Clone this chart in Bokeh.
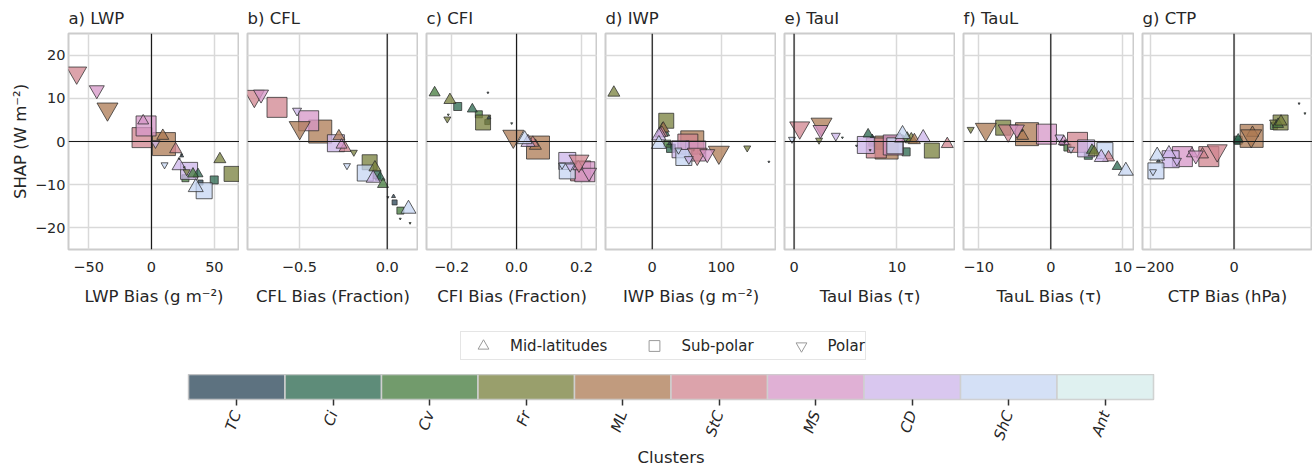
import math
import numpy as np
from bokeh.plotting import figure
from bokeh.layouts import column, row
from bokeh.models import (ColumnDataSource, FixedTicker, CustomJSTickFormatter, Span,
                          Legend, LegendItem, Range1d, FactorRange, Grid)
from bokeh.embed import file_html
from bokeh.resources import INLINE

# ---------------- data ----------------
CLUSTERS = ["TC", "Ci", "Cv", "Fr", "ML", "StC", "MS", "CD", "ShC", "Ant"]
CLUSTER_COLORS = ["#5d7280", "#5e8c79", "#729b6c", "#999f6c", "#c19b7e",
                  "#dca3ab", "#e0b0d5", "#d9c7ef", "#d4e0f6", "#dff1f0"]
PLOTTED = CLUSTERS[:9]          # clusters that appear in the scatter panels
REGIONS = ["Mid-latitudes", "Sub-polar", "Polar"]

# marker size per cluster (relative frequency), per region
SIZE_MID = [4, 10, 11, 12, 12, 12, 11, 14, 15]
SIZE_SUB = [5, 8, 7, 15, 23, 20, 20, 17, 16]
SIZE_POL = [2, 2, 2, 7, 21, 20, 15, 9, 7]

# each list: Mid-latitudes (9 clusters), Sub-polar (9), Polar (9)
LWP_X = [24, 37, 33, 54.4, 9, 19.2, -6.6, 21.9, 35.2,
         39, 49.9, 27, 63.7, 9.9, -7.5, -4.3, 29.9, 41.9,
         24, 22, 26, 28, -35, -59.5, -43.5, 3.2, 10.4]
LWP_Y = [-3.3, -7.5, -7.5, -4.1, 1.3, -1.8, 4.8, -5.6, -10.6,
         -9.5, -8.9, -8.5, -7.5, -0.6, 0.9, 3.6, -6.8, -11.4,
         -3.0, -4.0, -6.0, -7.0, 7.5, 15.9, 11.9, -0.4, -5.4]

CFL_X = [0.036, -0.04, -0.024, -0.07, -0.275, -0.24, -0.26, -0.08, 0.121,
         0.042, -0.059, 0.075, -0.1, -0.381, -0.627, -0.447, -0.292, -0.125,
         0.004, 0.074, 0.13, -0.19, -0.498, -0.756, -0.718, -0.513, -0.229]
CFL_Y = [-12.7, -8.3, -9.9, -6.0, 1.2, -1.5, -0.8, -8.5, -15.6,
         -14.1, -7.7, -16.0, -4.8, 2.3, 7.9, 4.8, -0.4, -7.3,
         -12.9, -17.9, -18.9, -2.5, 3.2, 10.5, 10.9, 7.1, -5.6]

CFI_X = [-0.085, -0.136, -0.252, -0.205, 0.058, 0.05, 0.19, 0.035, 0.025,
         -0.09, -0.181, -0.116, -0.103, 0.066, 0.197, 0.21, 0.156, 0.156,
         -0.088, -0.015, -0.21, -0.213, -0.01, 0.192, 0.223, 0.165, 0.14]
CFI_Y = [5.5, 7.5, 11.3, 9.6, -1.0, -0.3, -5.8, -0.2, 0.5,
         4.5, 8.1, 6.3, 4.4, -1.4, -6.8, -7.0, -4.5, -6.8,
         11.3, 4.2, 6.2, 5.2, 1.2, -4.5, -7.2, -5.8, -5.5]

IWP_X = [25, 18, 15, -55.6, 16, 14, 12, 9.6, 9.6,
         30, 26.5, 22, 20.3, 58, 51.6, 63, 41, 45.8,
         169, 60, 70, 137.6, 96.5, 65.2, 79.7, 53, 38]
IWP_Y = [-0.5, 2.0, 3.0, 11.3, 3.0, 2.0, 1.8, 1.3, -0.6,
         -1.2, -1.6, -0.5, 4.8, -0.2, -0.6, -2.2, -1.8, -3.7,
         -4.7, -2.0, -3.0, -1.5, -2.5, -2.9, -2.9, -4.1, -2.0]

TAUI_X = [7.6, 7.2, 11.0, 11.4, 11.7, 14.9, 10.3, 12.56, 10.55,
          7.5, 10.9, 8.3, 13.4, 9.0, 8.0, 9.65, 6.98, 9.8,
          6.07, 4.7, 7.4, 2.43, 2.67, 0.55, 2.57, 4.06, -0.2]
TAUI_Y = [1.2, 1.7, 0.8, 0.5, 0.3, -0.6, 0.6, 0.9, 1.7,
          -0.5, -2.4, -1.0, -2.1, -1.4, -1.5, -0.8, -0.8, -1.0,
          -1.0, 0.9, -2.0, 0.3, 4.0, 3.2, 2.7, 1.3, 0.5]

TAUL_X = [1.5, 9.2, 5.7, 6.0, -3.9, 8.0, 1.8, 7.0, 10.4,
          1.6, 5.2, 2.3, -6.6, -3.3, 3.7, -0.6, 4.9, 7.5,
          2.0, 1.9, -4.0, -11.1, -9.0, -5.9, -4.7, 1.2, 2.8]
TAUL_Y = [-0.5, -5.8, -2.0, -2.5, 1.3, -3.7, 0.0, -3.7, -6.8,
          -0.3, -3.2, -1.4, 3.2, 1.7, -0.2, 1.7, -1.6, -2.1,
          0.2, -0.2, 2.5, 2.8, 2.8, 2.5, 2.8, 0.9, -1.8]

CTP_X = [-180, 10, 105, 112, 44, -75, -100, -155, -183,
         8, 10, 95, 111, 42, -60, -123, -151, -186,
         155, 169, 100, 93, 41, -40, -91, -136, -193]
CTP_Y = [-4.5, 0.5, 4.0, 4.6, 2.0, -3.0, -2.8, -2.8, -3.3,
         0.0, 0.3, 3.6, 4.4, 1.3, -3.5, -3.5, -4.1, -6.8,
         8.8, 6.5, 4.8, 4.5, 1.3, -2.1, -3.2, -4.5, -7.0]

Y_TICKS = [-20, -10, 0, 10, 20]

PANELS = [
    ("a) LWP", "LWP Bias (g m\u207b\u00b2)", LWP_X, LWP_Y, (-66, 70), [-50, 0, 50], 0),
    ("b) CFL", "CFL Bias (Fraction)", CFL_X, CFL_Y, (-0.795, 0.178), [-0.5, 0.0, 0.5], 1),
    ("c) CFI", "CFI Bias (Fraction)", CFI_X, CFI_Y, (-0.277, 0.249), [-0.2, 0.0, 0.2], 1),
    ("d) IWP", "IWP Bias (g m\u207b\u00b2)", IWP_X, IWP_Y, (-67.7, 180), [0, 100, 200], 0),
    ("e) TauI", "TauI Bias (\u03c4)", TAUI_X, TAUI_Y, (-0.93, 15.7), [0, 10], 0),
    ("f) TauL", "TauL Bias (\u03c4)", TAUL_X, TAUL_Y, (-12.1, 11.6), [-10, 0, 10], 0),
    ("g) CTP", "CTP Bias (hPa)", CTP_X, CTP_Y, (-218, 187), [-200, 0, 200], 0),
]

# ---------------- style ----------------
TEXT = "#262626"
FONT = "DejaVu Sans"
GRID = "#d9d9d9"
MARKERS = ["triangle", "square", "inverted_triangle"]
SIZES = [SIZE_MID, SIZE_SUB, SIZE_POL]
ALPHA = 0.75


def underlying(hexc, a=ALPHA):
    h = hexc.lstrip("#")
    rgb = [int(h[i:i + 2], 16) for i in (0, 2, 4)]
    u = [max(0, min(255, round(255 - (255 - c) / a))) for c in rgb]
    return "#%02x%02x%02x" % tuple(u)


FILL = [underlying(c) for c in CLUSTER_COLORS[:9]]


def fmt(dec):
    return CustomJSTickFormatter(args=dict(d=dec),
                                 code="return tick.toFixed(d).replace('-', '\\u2212');")


figs = []
for i, (title, xlabel, xs, ys, xr, xt, dec) in enumerate(PANELS):
    first = i == 0
    fw = 170 if i == 6 else 171
    p = figure(frame_width=fw, frame_height=216,
               x_range=Range1d(*xr), y_range=Range1d(-25, 25),
               output_backend="svg", toolbar_location=None,
               y_axis_location="left" if first else None,
               min_border_left=68 if first else 8, min_border_right=0,
               min_border_top=32, min_border_bottom=62,
               background_fill_color="white", border_fill_color="white")
    p.title.text = title
    p.title.align = "left"
    p.title.text_font = FONT
    p.title.text_font_size = "16.5px"
    p.title.text_font_style = "normal"
    p.title.text_color = TEXT
    p.title.standoff = 12
    p.outline_line_color = "#cccccc"
    p.outline_line_width = 2

    p.xgrid.ticker = FixedTicker(ticks=xt)
    p.xgrid.grid_line_color = GRID
    p.xgrid.grid_line_width = 1.5
    if first:
        p.ygrid.ticker = FixedTicker(ticks=Y_TICKS)
        p.ygrid.grid_line_color = GRID
        p.ygrid.grid_line_width = 1.5
    else:
        p.add_layout(Grid(dimension=1, ticker=FixedTicker(ticks=Y_TICKS),
                          grid_line_color=GRID, grid_line_width=1.5))

    ax = p.xaxis[0]
    ax.ticker = FixedTicker(ticks=xt)
    ax.formatter = fmt(dec)
    ax.axis_label = xlabel
    axes = [ax]
    if first:
        ay = p.yaxis[0]
        ay.ticker = FixedTicker(ticks=Y_TICKS)
        ay.formatter = fmt(0)
        ay.axis_label = "SHAP (W m\u207b\u00b2)"
        ay.major_label_standoff = 3
        ay.axis_label_standoff = 2
        axes.append(ay)
    ax.major_label_standoff = 12
    ax.axis_label_standoff = 12
    for a in axes:
        a.axis_line_color = None
        a.major_tick_line_color = None
        a.minor_tick_line_color = None
        a.major_tick_out = 0
        a.major_tick_in = 0
        a.minor_tick_out = 0
        a.minor_tick_in = 0
        a.major_label_text_font = FONT
        a.major_label_text_font_size = "14.5px"
        a.major_label_text_color = TEXT
        a.axis_label_text_font = FONT
        a.axis_label_text_font_size = "16.5px"
        a.axis_label_text_font_style = "normal"
        a.axis_label_text_color = TEXT

    p.add_layout(Span(location=0, dimension="height", line_color="#1a1a1a", line_width=1.2))
    p.add_layout(Span(location=0, dimension="width", line_color="#1a1a1a", line_width=1.2))

    for k in (1, 0, 2):
        sl = slice(9 * k, 9 * k + 9)
        src = ColumnDataSource(dict(x=xs[sl], y=ys[sl], size=SIZES[k],
                                    fill=FILL, cluster=PLOTTED))
        p.scatter(x="x", y="y", size="size", source=src, marker=MARKERS[k],
                  fill_color="fill", fill_alpha=ALPHA,
                  line_color="#2b2b2b", line_alpha=0.75, line_width=1)
    figs.append(p)

# ---------------- legend strip ----------------
lg = figure(width=1312, height=63, x_range=Range1d(0, 1), y_range=Range1d(0, 1),
            output_backend="svg", toolbar_location=None, title=None,
            x_axis_location=None, y_axis_location=None,
            min_border_left=0, min_border_right=0, min_border_top=0, min_border_bottom=0,
            background_fill_color="white", border_fill_color="white")
lg.outline_line_color = None
lg.xgrid.visible = False
lg.ygrid.visible = False
items = []
for k, reg in enumerate(REGIONS):
    r = lg.scatter(x=np.array([np.nan]), y=np.array([np.nan]), marker=MARKERS[k], size=11,
                   fill_color=None, line_color="#9a9a9a", line_width=1)
    items.append(LegendItem(label=reg, renderers=[r]))
legend = Legend(items=items, orientation="horizontal", location=(272, 14),
                border_line_color="#cccccc", border_line_width=1,
                background_fill_color="white",
                label_text_font=FONT, label_text_font_size="15px",
                label_text_color=TEXT,
                glyph_width=44, glyph_height=27, label_height=27,
                label_standoff=5, spacing=25, padding=0, margin=0)
lg.add_layout(legend, "center")

# ---------------- colour bar ----------------
cb = figure(x_range=FactorRange(factors=CLUSTERS), y_range=Range1d(0, 1),
            frame_width=965, frame_height=25, title=None,
            output_backend="svg", toolbar_location=None, y_axis_location=None,
            min_border_left=188, min_border_right=159,
            min_border_top=0, min_border_bottom=66,
            background_fill_color="white", border_fill_color="white")
cb_src = ColumnDataSource(dict(cluster=CLUSTERS, color=CLUSTER_COLORS))
cb.rect(x="cluster", y=0.5, width=1, height=1, source=cb_src,
        fill_color="color", line_color="#cfcfcf", line_width=1.5)
cb.xgrid.visible = False
cb.ygrid.visible = False
cb.outline_line_color = "#cccccc"
cb.outline_line_width = 1.5
xa = cb.xaxis[0]
xa.axis_label = "Clusters"
xa.axis_line_color = None
xa.major_tick_line_color = "#333333"
xa.major_tick_line_width = 1.5
xa.major_tick_out = 6
xa.major_tick_in = 0
xa.major_label_orientation = math.radians(70)
xa.major_label_standoff = 6
xa.axis_label_standoff = 0
xa.major_label_text_font = FONT
xa.major_label_text_font_size = "15px"
xa.major_label_text_font_style = "italic"
xa.major_label_text_color = TEXT
xa.axis_label_text_font = FONT
xa.axis_label_text_font_size = "16.5px"
xa.axis_label_text_font_style = "normal"
xa.axis_label_text_color = TEXT

layout = column(row(*figs, spacing=0), lg, cb, spacing=0)

with open("out.html", "w") as f:
    f.write(file_html(layout, INLINE))
